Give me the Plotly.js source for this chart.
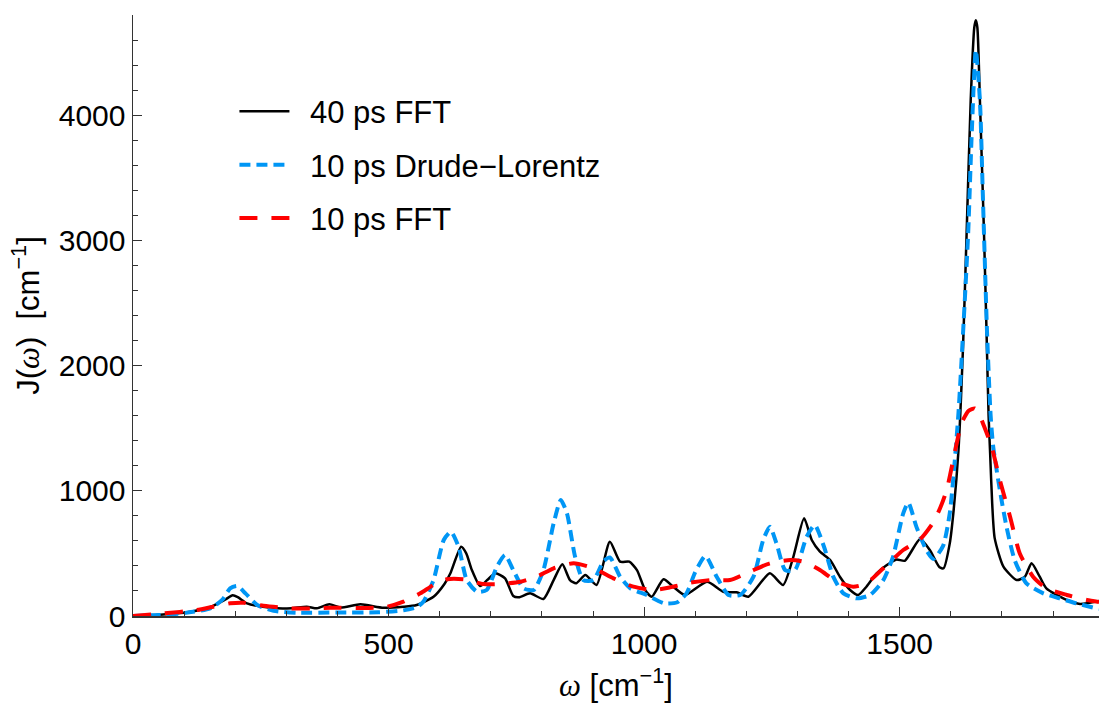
<!DOCTYPE html>
<html>
<head>
<meta charset="utf-8">
<script src="https://cdn.plot.ly/plotly-3.0.1.min.js"></script>
<style>html,body{margin:0;padding:0;background:#fff;}#chart{width:1099px;height:706px;}</style>
</head>
<body>
<div id="chart"></div>
<script>
// 40 ps FFT
const fft40X = [0,50,100,150,180,195,205,223,250,282,310,340,360,384,406,445,490,529,555,588,610,621,642,652,663,679,693,709,728,744,755,777,803,823,840,855,867,885,907,933,953,971,986,1002,1015,1038,1057,1080,1123,1155,1181,1204,1246,1272,1292,1313,1328,1344,1364,1383,1403,1419,1435,1455,1475,1494,1510,1540,1559,1578,1586,1598,1605,1615,1624,1631,1639,1646,1649,1652,1657,1665,1670,1674,1677,1681,1686,1703,1729,1745,1758,1774,1787,1827,1853,1890];
const fft40Y = [0,10,26,70,130,165,150,101,75,61,62,74,61,93,68,93,66,74,88,154,260,341,553,500,367,240,287,341,301,160,150,181,136,287,413,287,261,327,248,593,434,434,367,208,154,293,234,168,274,194,189,154,341,248,473,780,607,514,447,314,208,168,234,341,407,452,441,615,527,389,381,580,820,1320,2150,3056,4120,4700,4758,4700,4120,3056,2259,1600,1300,900,620,394,287,314,421,314,221,128,96,120];

// 10 ps Drude-Lorentz
const dlX = [0,50,94,151,175,190,204,220,243,275,321,400,480,529,555,568,588,608,622,637,653,673,692,712,728,744,764,784,803,823,837,849,865,881,901,920,933,953,973,1005,1040,1065,1083,1100,1120,1142,1165,1188,1214,1233,1246,1259,1276,1295,1318,1334,1352,1370,1390,1416,1442,1468,1487,1507,1517,1533,1553,1566,1585,1598,1606,1615,1624,1634,1641,1649,1657,1663,1671,1678,1683,1696,1709,1725,1748,1781,1813,1846,1890];
const dlY = [0,8,20,61,130,221,240,181,88,42,26,28,30,45,70,114,287,607,673,553,287,194,208,394,487,367,221,208,367,740,926,820,473,287,287,434,468,314,221,168,100,110,181,350,480,314,168,168,314,607,713,580,367,367,633,726,553,314,181,141,168,287,473,820,905,710,520,455,560,820,1150,1618,2259,3056,3854,4519,4120,3321,2259,1600,1352,1006,713,447,261,181,141,101,55];

// 10 ps FFT
const fft10X = [0,59,125,157,190,216,255,308,360,386,451,497,529,562,588,614,647,686,718,758,790,823,862,901,940,979,1018,1051,1090,1129,1168,1207,1246,1286,1312,1344,1377,1409,1435,1468,1507,1540,1566,1580,1592,1605,1621,1635,1647,1655,1663,1680,1696,1716,1735,1761,1787,1827,1866,1890];
const fft10Y = [0,20,48,74,101,106,82,61,61,66,64,74,114,181,248,293,293,255,255,274,314,381,421,381,301,234,208,229,266,287,287,354,421,447,434,367,274,234,261,381,527,613,750,870,1006,1250,1538,1640,1658,1620,1538,1352,1086,793,500,314,221,168,128,112];

const xTickVals = [0,500,1000,1500];
const yTickVals = [0,1000,2000,3000,4000];
const seriesNames = ['40 ps FFT', '10 ps Drude\u2212Lorentz', '10 ps FFT'];

const FONT = 'Liberation Sans, Arial, Helvetica, sans-serif';
const OMEGA = '<span style="font-family:\'Liberation Serif\',serif;font-style:italic">\u03c9</span>';
const PAD = '\u2002';

const traces = [
  {x: fft40X, y: fft40Y, name: PAD + seriesNames[0], mode: 'lines', legendgroup: 'a',
   line: {color: '#000000', width: 2.5, shape: 'spline', smoothing: 0.6}},
  {x: dlX, y: dlY, name: PAD + seriesNames[1], mode: 'lines', legendgroup: 'b',
   line: {color: '#0096f5', width: 4, dash: '11px,6px', shape: 'spline', smoothing: 0.6}},
  {x: fft10X, y: fft10Y, name: PAD + seriesNames[2], mode: 'lines', legendgroup: 'c',
   line: {color: '#ff0000', width: 4, dash: '18px,14px', shape: 'spline', smoothing: 0.6}}
];

const layout = {
  width: 1099, height: 706,
  margin: {l: 133, r: 0, t: 15, b: 90},
  paper_bgcolor: '#fff', plot_bgcolor: '#fff',
  font: {family: FONT, size: 30, color: '#000'},
  showlegend: true,
  legend: {x: 0.105, y: 0.884, xanchor: 'left', yanchor: 'top', bgcolor: 'rgba(0,0,0,0)',
           font: {family: FONT, size: 31, color: '#000'}, tracegroupgap: 10, itemwidth: 50},
  xaxis: {
    range: [0, 1890], showgrid: false, zeroline: false,
    showline: true, linecolor: '#333', linewidth: 1.5, mirror: false,
    ticks: 'inside', ticklen: 9, tickwidth: 1.2, tickcolor: '#333',
    tickvals: xTickVals, ticktext: xTickVals.map(String),
    tickfont: {family: FONT, size: 30, color: '#000'},
    minor: {dtick: 100, ticks: 'inside', ticklen: 5, tickwidth: 1, tickcolor: '#333', showgrid: false},
    title: {text: OMEGA + ' [cm<sup>\u22121</sup>]', font: {family: FONT, size: 31, color: '#000'}, standoff: 16}
  },
  yaxis: {
    range: [0, 4800], showgrid: false, zeroline: false,
    showline: true, linecolor: '#333', linewidth: 1.5, mirror: false,
    ticks: 'inside', ticklen: 9, tickwidth: 1.2, tickcolor: '#333',
    tickvals: yTickVals, ticktext: yTickVals.map(String),
    tickfont: {family: FONT, size: 30, color: '#000'},
    minor: {dtick: 200, ticks: 'inside', ticklen: 5, tickwidth: 1, tickcolor: '#333', showgrid: false},
    title: {text: 'J(' + OMEGA + ')  [cm<sup>\u22121</sup>]', font: {family: FONT, size: 31, color: '#000'}, standoff: 10}
  }
};

Plotly.newPlot('chart', traces, layout, {displayModeBar: false, staticPlot: true});
</script>
</body>
</html>
